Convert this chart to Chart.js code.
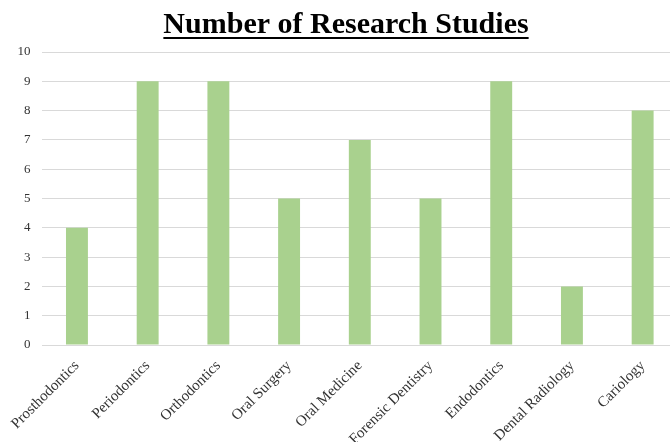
<!DOCTYPE html>
<html>
<head>
<meta charset="utf-8">
<script src="https://cdn.jsdelivr.net/npm/chart.js@4"></script>
<style>
  html, body { margin: 0; padding: 0; overflow: hidden; background: #fff; }
  #wrap { width: 680px; height: 442px; position: relative; }
</style>
</head>
<body>
<div id="wrap"><canvas id="myChart"></canvas></div>
<script>
const categories = ['Prosthodontics', 'Periodontics', 'Orthodontics', 'Oral Surgery', 'Oral Medicine',
    'Forensic Dentistry', 'Endodontics', 'Dental Radiology', 'Cariology'];
const studies = [4, 9, 9, 5, 7, 5, 9, 2, 8];
const yTicks = [0, 1, 2, 3, 4, 5, 6, 7, 8, 9, 10];

const serif = '"Liberation Serif", "Times New Roman", serif';

// chart.js title can't underline, so draw the line under it
const underline = {
    id: 'underline',
    afterDraw(chart) {
        const t = chart.titleBlock;
        if (!t) return;
        const c = chart.ctx;
        c.save();
        c.font = 'bold 30px ' + serif;
        const w = c.measureText(t.options.text).width;
        const cx = t.left + t.width / 2;
        c.fillStyle = '#000';
        c.fillRect(cx - w / 2, 37, w, 2);
        c.restore();
    }
};

const ctx = document.getElementById('myChart').getContext('2d');
const myChart = new Chart(ctx, {
    type: 'bar',
    data: {
        labels: categories,
        datasets: [{
            label: 'Number of Research Studies',
            data: studies,
            backgroundColor: '#a9d18e',
            borderWidth: 0,
            categoryPercentage: 1,
            barPercentage: 0.31
        }]
    },
    options: {
        responsive: true,
        maintainAspectRatio: false,
        animation: false,
        layout: { padding: { left: 14, right: 2, top: 0, bottom: 0 } },
        plugins: {
            legend: { display: false },
            tooltip: { enabled: false },
            title: {
                display: true,
                text: 'Number of Research Studies',
                color: '#000',
                font: { family: serif, size: 30, weight: 'bold' },
                padding: { top: 7, bottom: 9 }
            }
        },
        scales: {
            x: {
                grid: { display: false },
                border: { display: false },
                ticks: {
                    color: '#333',
                    font: { family: serif, size: 15 },
                    minRotation: 45,
                    maxRotation: 45,
                    padding: 4
                },
                afterFit(scale) { scale.height = 97; }
            },
            y: {
                min: 0,
                max: 10,
                afterBuildTicks(scale) { scale.ticks = yTicks.map(v => ({ value: v })); },
                grid: { color: '#d9d9d9', lineWidth: 1, drawTicks: false },
                border: { display: false },
                ticks: {
                    color: '#333',
                    font: { family: serif, size: 13 },
                    padding: 11
                },
                afterFit(scale) { scale.width = 27.6; }
            }
        }
    },
    plugins: [underline]
});
</script>
</body>
</html>
